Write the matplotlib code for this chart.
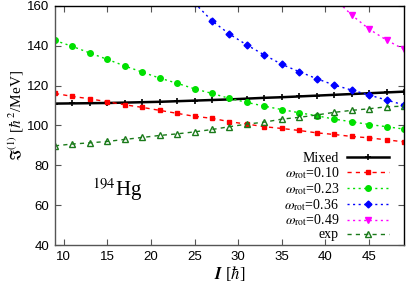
import matplotlib
matplotlib.use("Agg")
import matplotlib.pyplot as plt
import numpy as np

plt.rcParams['font.family'] = ['Liberation Sans', 'DejaVu Sans']
plt.rcParams['mathtext.fontset'] = 'stix'

spin = np.arange(9, 50, 2)
spin_blue = np.arange(25, 50, 2)
spin_mag = np.arange(41, 50, 2)

mixed = [111.0, 111.1, 111.2, 111.3, 111.5, 111.7, 111.9, 112.2, 112.5, 112.8, 113.1,
         113.5, 113.9, 114.2, 114.6, 115.0, 115.4, 115.8, 116.2, 116.6, 117.0]
w010 = [116.1, 114.6, 113.4, 111.9, 110.4, 109.1, 107.6, 106.1, 104.6, 103.6, 101.9,
        100.7, 99.4, 98.5, 97.5, 96.3, 95.5, 94.5, 93.8, 92.8, 91.8]
w023 = [142.7, 139.7, 136.4, 133.2, 129.9, 126.8, 123.8, 121.2, 118.4, 116.1, 113.6,
        111.6, 109.7, 108.0, 106.4, 104.9, 103.2, 101.9, 100.5, 99.4, 98.2]
w036 = [161.5, 152.5, 145.9, 140.4, 135.4, 130.7, 127.0, 123.5, 120.3, 117.8, 115.3, 112.8, 110.3]
w049 = [164.0, 155.5, 148.4, 142.9, 138.2]
exp = [89.8, 90.7, 91.3, 92.0, 93.0, 94.0, 95.0, 95.8, 96.8, 98.0, 99.4,
       100.7, 101.7, 103.2, 104.1, 105.3, 106.6, 107.6, 108.4, 109.4, 109.7]

fig = plt.figure(figsize=(4.09, 2.85), dpi=100)
ax = fig.add_axes([55/409, 1-245/285, (404-55)/409, (245-6)/285])

ax.plot(spin, mixed, color='black', lw=1.8, marker='+', ms=5, mew=1.2, label='Mixed')
ax.plot(spin, w010, color='red', lw=1.0, ls=(0, (3, 3)), marker='s', ms=3.2,
        label=r'$\omega_{\rm rot}$=0.10')
ax.plot(spin, w023, color='#00e000', lw=1.0, ls=(0, (1.5, 2.5)), marker='o', ms=4.0,
        label=r'$\omega_{\rm rot}$=0.23')
ax.plot(spin_blue, w036, color='blue', lw=1.0, ls=(0, (1.5, 2.5)), marker='D', ms=3.5,
        label=r'$\omega_{\rm rot}$=0.36')
ax.plot(spin_mag, w049, color='magenta', lw=1.0, ls=(0, (1.5, 2.5)), marker='v', ms=4.0,
        label=r'$\omega_{\rm rot}$=0.49')
ax.plot(spin, exp, color='#1a7a1a', lw=1.0, ls=(0, (3, 3)), marker='^', ms=4.0,
        mfc='none', mew=1.0, label='exp')

ax.set_xlim(9, 49)
ax.set_ylim(40, 160)
ax.set_xticks([10, 15, 20, 25, 30, 35, 40, 45])
ax.set_yticks([40, 60, 80, 100, 120, 140, 160])
ax.tick_params(direction='in', top=True, right=True, labelsize=9.5, length=4, width=0.8,
               color='#555555', pad=4)
for s in ['left', 'bottom']:
    ax.spines[s].set_color('#555555')
for s in ['top', 'right']:
    ax.spines[s].set_color('black')
for s in ax.spines.values():
    s.set_linewidth(1.0)

ax.set_ylabel(r'$\mathfrak{I}^{(1)}$ [$\hbar^2$/MeV]', fontsize=11, family='Liberation Serif',
              labelpad=1)
ax.yaxis.set_label_coords(-0.083, 0.54)
ax.set_xlabel(r'$\mathbfit{I}$ [$\hbar$]', fontsize=12, family='Liberation Serif', labelpad=1)

ax.text(0.178, 0.23, r'$^{194}$Hg', transform=ax.transAxes, fontsize=15,
        family='Liberation Serif', ha='center', va='center')

leg = ax.legend(loc='lower right', bbox_to_anchor=(0.957, 0.015), frameon=False,
                markerfirst=False, prop={'family': 'Liberation Serif', 'size': 10},
                handlelength=3.0, handletextpad=0.6, labelspacing=0.0, borderpad=0.0,
                borderaxespad=0.0)

fig.savefig('out.png', dpi=100)
